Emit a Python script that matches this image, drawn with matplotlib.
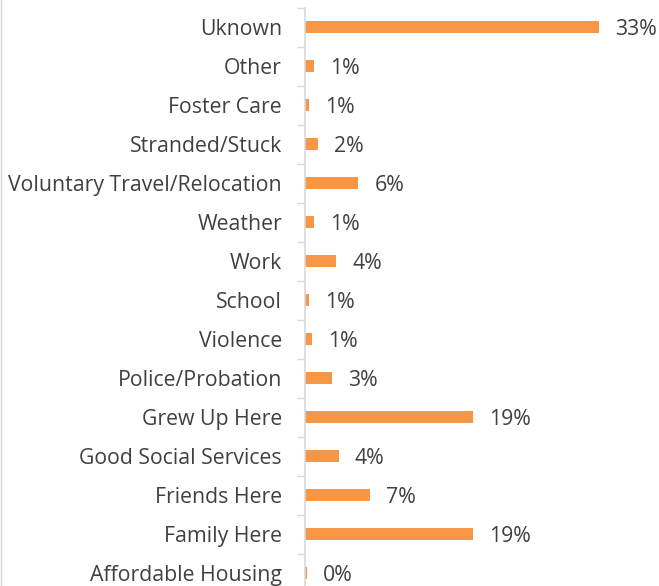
import numpy as np
import matplotlib
matplotlib.use("Agg")
import matplotlib.pyplot as plt
from matplotlib.lines import Line2D

# categories listed bottom to top
categories = ["Affordable Housing", "Family Here", "Friends Here", "Good Social Services",
              "Grew Up Here", "Police/Probation", "Violence", "School", "Work", "Weather",
              "Voluntary Travel/Relocation", "Stranded/Stuck", "Foster Care", "Other", "Uknown"]
shares = [0.002, 0.189, 0.073, 0.038, 0.189, 0.030, 0.0075, 0.005, 0.035, 0.010,
          0.060, 0.015, 0.005, 0.010, 0.330]
share_labels = ["0%", "19%", "7%", "4%", "19%", "3%", "1%", "1%", "4%", "1%",
                "6%", "2%", "1%", "1%", "33%"]

plt.rcParams['font.family'] = ['Open Sans', 'DejaVu Sans']

fig = plt.figure(figsize=(6.59, 5.86), dpi=100)
ax = fig.add_axes([305 / 659, -6.5 / 586, 354 / 659, 585 / 586])

y = np.arange(len(categories))
ax.barh(y, shares, height=0.31, color="#f79646")

for yi, v, lab in zip(y, shares, share_labels):
    ax.annotate(lab, (v, yi), xytext=(11.5, -2), textcoords="offset points",
                va="center", ha="left", fontsize=15.3, color="#404040")

ax.set_xlim(0, 354 / 8.9 / 100)
ax.set_ylim(-0.5, len(categories) - 0.5)
ax.set_yticks(y)
ax.set_yticklabels(categories, fontsize=15.3, color="#404040")
ax.set_yticks(np.arange(-0.5, len(categories), 1), minor=True)
ax.tick_params(axis="y", which="major", length=0, pad=16.5)
ax.tick_params(axis="y", which="minor", length=6, width=1, color="#d9d9d9")
ax.set_xticks([])

for s in ["top", "right", "bottom"]:
    ax.spines[s].set_visible(False)
ax.spines["left"].set_color("#d9d9d9")
ax.spines["left"].set_linewidth(1.2)

fig.add_artist(Line2D([0.001, 0.001], [0, 1], transform=fig.transFigure,
                      color="#d9d9d9", linewidth=1))

fig.savefig("out.png", dpi=100)
